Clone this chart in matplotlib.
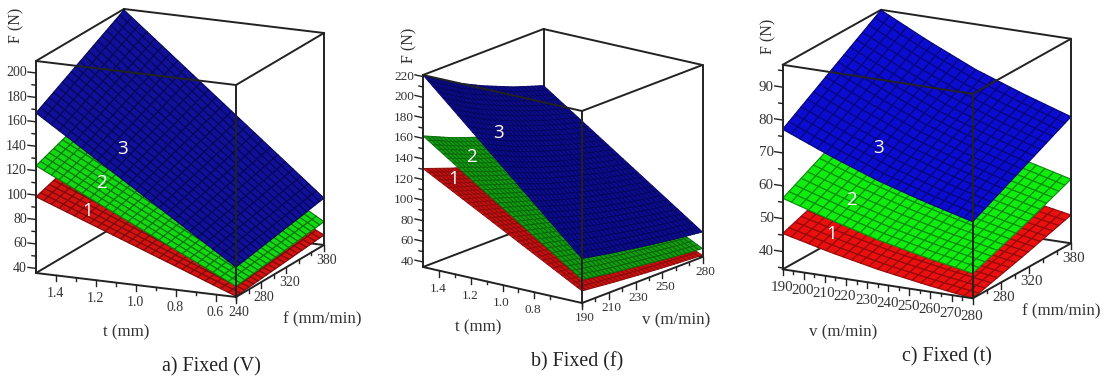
#!/usr/bin/env python3
"""Three cutting-force response surfaces, F (N), each with one parameter fixed."""

import itertools

import numpy as np
import matplotlib
matplotlib.use("Agg")
import matplotlib.pyplot as plt
from mpl_toolkits.mplot3d import proj3d

W, H = 1106, 381
SERIF = "Liberation Serif"

# value limits of each box
T_LIM = (1.5, 0.5)
F_LIM = (240, 380)
V_LIM = (190, 280)
FORCE_LIM_A = (36.2, 209.8)
FORCE_LIM_B = (35.1, 221.6)
FORCE_LIM_C = (34.6, 96.8)

# axis ticks
T_TICKS = [1.4, 1.2, 1.0, 0.8, 0.6]
T_MINOR = [1.3, 1.1, 0.9, 0.7, 0.5]
F_TICKS = [240, 280, 320, 380]
F_MINOR = [260, 300, 340, 360]
V_TICKS_B = [190, 210, 230, 250, 280]
V_MINOR_B = [200, 220, 240, 260, 270]
V_TICKS_C = [190, 200, 210, 220, 230, 240, 250, 260, 270, 280]
V_MINOR_C = [195, 205, 215, 225, 235, 245, 255, 265, 275]
FORCE_TICKS_A = [40, 60, 80, 100, 120, 140, 160, 180, 200]
FORCE_MINOR_A = [50, 70, 90, 110, 130, 150, 170, 190]
FORCE_TICKS_B = [40, 60, 80, 100, 120, 140, 160, 180, 200, 220]
FORCE_MINOR_B = [50, 70, 90, 110, 130, 150, 170, 190, 210]
FORCE_TICKS_C = [40, 50, 60, 70, 80, 90]
FORCE_MINOR_C = [35, 45, 55, 65, 75, 85, 95]

# surface values: rows run along the left-to-front edge,
# columns along the front-to-right edge
A_RED = [[98.6, 123.0], [36.8, 44.4]]
A_GREEN = [[124.0, 152.0], [45.0, 55.3]]
A_BLUE = [[167.3, 209.0], [60.7, 74.6]]

B_RED = [[130.8, 120.0, 111.4, 104.2, 98.4], [46.8, 43.6, 40.9, 38.6, 36.8]]
B_GREEN = [[162.5, 149.5, 139.0, 130.0, 122.0], [57.9, 53.2, 49.5, 46.0, 43.3]]
B_BLUE = [[221.6, 203.0, 188.8, 176.5, 166.6], [78.3, 72.5, 67.5, 63.0, 59.4]]

C_RED = [[45.5, 51.0, 56.8], [42.0, 47.3, 52.7], [39.0, 44.0, 49.0],
         [36.6, 41.2, 45.9], [34.6, 38.7, 43.2]]
C_GREEN = [[56.2, 64.0, 72.0], [51.9, 59.0, 66.6], [48.0, 54.8, 62.0],
           [44.9, 51.0, 57.8], [42.2, 47.8, 54.1]]
C_BLUE = [[77.2, 87.0, 96.7], [71.3, 80.5, 89.5], [66.0, 74.5, 83.0],
          [61.7, 69.7, 77.8], [57.9, 65.5, 73.1]]


def fig_xy(x, y):
    return x / W, 1 - y / H


def mesh(values, nx, ny):
    # only thickens the read values into the wire mesh of the surface
    values = np.asarray(values, float)
    r = np.linspace(0, values.shape[0] - 1, nx + 1)
    c = np.linspace(0, values.shape[1] - 1, ny + 1)
    rows = np.array([np.interp(c, np.arange(values.shape[1]), v) for v in values])
    return np.array([np.interp(r, np.arange(values.shape[0]), rows[:, j])
                     for j in range(len(c))]).T


def panel(fig, lb, fb, rb, z_px, xlim, ylim, zlim, surfaces, nx, ny, mesh_lw,
          xticks, xminor, yticks, yminor, zticks, zminor, fs, xfmt="{:g}"):
    """lb, fb, rb: pixels of the left, front and right bottom box corners."""
    xh, xv = fb[0] - lb[0], fb[1] - lb[1]
    yh, yv = rb[0] - fb[0], fb[1] - rb[1]
    sin_el = np.sqrt(xv / xh * yv / yh)
    a = np.arctan(np.sqrt((xv / xh) / (yv / yh)))
    el = np.arcsin(sin_el)

    ax = fig.add_axes([0, 0, 400 / W, 400 / H], projection="3d",
                      computed_zorder=False, proj_type="ortho")
    ax.view_init(elev=np.degrees(el), azim=-90 + np.degrees(a))
    ax.set_box_aspect((xh / np.cos(a), yh / np.sin(a), z_px / np.cos(el)))
    ax.set_axis_off()

    for k, (values, face, edge) in enumerate(surfaces):
        z = mesh(values, nx, ny)
        x = np.linspace(xlim[0], xlim[1], nx + 1)
        y = np.linspace(ylim[0], ylim[1], ny + 1)
        X, Y = np.meshgrid(x, y, indexing="ij")
        ax.plot_surface(X, Y, z, rstride=1, cstride=1, color=face, shade=False,
                        edgecolor=edge, linewidth=mesh_lw, zorder=2 + k)
    ax.set_xlim(*xlim)
    ax.set_ylim(*ylim)
    ax.set_zlim(*zlim)

    M = ax.get_proj()

    def to2d(x, y, z):
        px, py, _ = proj3d.proj_transform(x, y, z, M)
        return px, py

    # slide and scale the axes so the box lands on its corners in the figure
    targets = [(lb[0], H - lb[1]), (rb[0], H - rb[1]), (fb[0], H - fb[1])]
    corners = [(xlim[0], ylim[0], zlim[0]), (xlim[1], ylim[1], zlim[0]), (xlim[1], ylim[0], zlim[0])]
    ax.apply_aspect()
    now = ax.transData.transform([to2d(*c) for c in corners])
    side = 400 * np.hypot(*(np.subtract(targets[1], targets[0]))) / np.hypot(*(now[1] - now[0]))
    ax.set_position([0, 0, side / W, side / H])
    ax.apply_aspect()
    now = ax.transData.transform([to2d(*c) for c in corners])
    dx, dy = np.mean(np.subtract(targets, now), axis=0)
    ax.set_position([dx / W, dy / H, side / W, side / H])
    ax.apply_aspect()

    # box: edges behind the surfaces first, then the ones in front of them
    x0, x1 = xlim
    y0, y1 = ylim
    z0, z1 = zlim
    for p, q in itertools.combinations(itertools.product((x0, x1), (y0, y1), (z0, z1)), 2):
        if sum(u != w for u, w in zip(p, q)) != 1:
            continue
        behind = (p[0], p[1]) == (x0, y1) or (q[0], q[1]) == (x0, y1)
        ax.plot([p[0], q[0]], [p[1], q[1]], [p[2], q[2]], color="#222222", lw=1.4,
                zorder=1 if behind else 6, solid_capstyle="round")

    # ticks drawn straight down (t, f, v) or along the left edge (F)
    z_per_px = (z1 - z0) / z_px
    x_per_px = (x1 - x0) / xh
    for vals, length in ((xticks, 6), (xminor, 3)):
        for v in vals:
            ax.plot([v, v], [y0, y0], [z0, z0 - length * z_per_px], color="#222222", lw=1.0, zorder=6)
    for vals, length in ((yticks, 6), (yminor, 3)):
        for v in vals:
            ax.plot([x1, x1], [v, v], [z0, z0 - length * z_per_px], color="#222222", lw=1.0, zorder=6)
    for vals, length in ((zticks, 8), (zminor, 4)):
        for v in vals:
            ax.plot([x0, x0 - length * x_per_px], [y0, y0], [v, v], color="#222222", lw=1.0, zorder=6)

    color = "#333333"
    for v in xticks:
        ax.annotate(xfmt.format(v), to2d(v, y0, z0), xytext=(-1, -18), textcoords="offset pixels",
                    ha="center", va="center", fontsize=fs, family=SERIF, color=color,
                    annotation_clip=False)
    for v in yticks:
        ax.annotate(f"{v}", to2d(x1, v, z0), xytext=(3, -15), textcoords="offset pixels",
                    ha="center", va="center", fontsize=fs, family=SERIF, color=color,
                    annotation_clip=False)
    for v in zticks:
        ax.annotate(f"{v}", to2d(x0, y0, v), xytext=(-9, 0), textcoords="offset pixels",
                    ha="right", va="center", fontsize=fs, family=SERIF, color=color,
                    annotation_clip=False)
    return ax


def label(fig, x, y, s, size, **kw):
    fx, fy = fig_xy(x, y)
    kw.setdefault("family", SERIF)
    kw.setdefault("color", "#333333")
    fig.text(fx, fy, s, fontsize=size, ha="center", va="center", **kw)


def main():
    fig = plt.figure(figsize=(W / 100, H / 100), dpi=100, facecolor="white")

    panel(fig, (36, 273), (236, 297), (324, 245), 212, T_LIM, F_LIM, FORCE_LIM_A,
          [(A_RED, "#d41212", "#7c0a0a"), (A_GREEN, "#14d814", "#0a780a"), (A_BLUE, "#10109a", "#070758")],
          26, 20, 0.8, T_TICKS, T_MINOR, F_TICKS, F_MINOR, FORCE_TICKS_A, FORCE_MINOR_A, 10,
          xfmt="{:.1f}")
    panel(fig, (423, 267), (582, 303), (702.5, 257), 192, T_LIM, V_LIM, FORCE_LIM_B,
          [(B_RED, "#c81010", "#8c0a0a"), (B_GREEN, "#12a012", "#0a680a"), (B_BLUE, "#0c0c92", "#06065c")],
          32, 30, 0.65, T_TICKS[:-1], T_MINOR, V_TICKS_B, V_MINOR_B, FORCE_TICKS_B, FORCE_MINOR_B, 9.5,
          xfmt="{:.1f}")
    panel(fig, (782.7, 269.3), (972.7, 298.3), (1071, 243.3), 204.5, V_LIM, F_LIM, FORCE_LIM_C,
          [(C_RED, "#ea1010", "#960a0a"), (C_GREEN, "#10ec10", "#0a900a"), (C_BLUE, "#0c0cd0", "#06067c")],
          22, 16, 0.85, V_TICKS_C, V_MINOR_C, F_TICKS[1:], F_MINOR, FORCE_TICKS_C, FORCE_MINOR_C, 10.8)

    for x, y, s in [(16, 25, "F (N)"), (409, 45, "F (N)"), (768, 36, "F (N)")]:
        label(fig, x, y, s, 11.5, rotation=90)
    for x, y, s in [(126, 332, "t (mm)"), (322, 319, "f (mm/min)"), (478, 327, "t (mm)"),
                    (676, 320, "v (m/min)"), (843, 332, "v (m/min)"), (1061, 311, "f (mm/min)")]:
        label(fig, x, y, s, 12.2)
    for x, y, s in [(211, 367, "a) Fixed (V)"), (577, 362, "b) Fixed (f)"), (947, 357, "c) Fixed (t)")]:
        label(fig, x, y, s, 14.4, color="#222222")

    for x, y, s in [(88, 211, "1"), (101, 183, "2"), (122, 149, "3"),
                    (454, 179, "1"), (471, 157, "2"), (499, 133, "3"),
                    (832, 234, "1"), (851, 200, "2"), (879, 148, "3")]:
        label(fig, x, y, s, 13.5, family="Open Sans", color="white", zorder=20)

    fig.savefig("out.png", dpi=100)


if __name__ == "__main__":
    main()
